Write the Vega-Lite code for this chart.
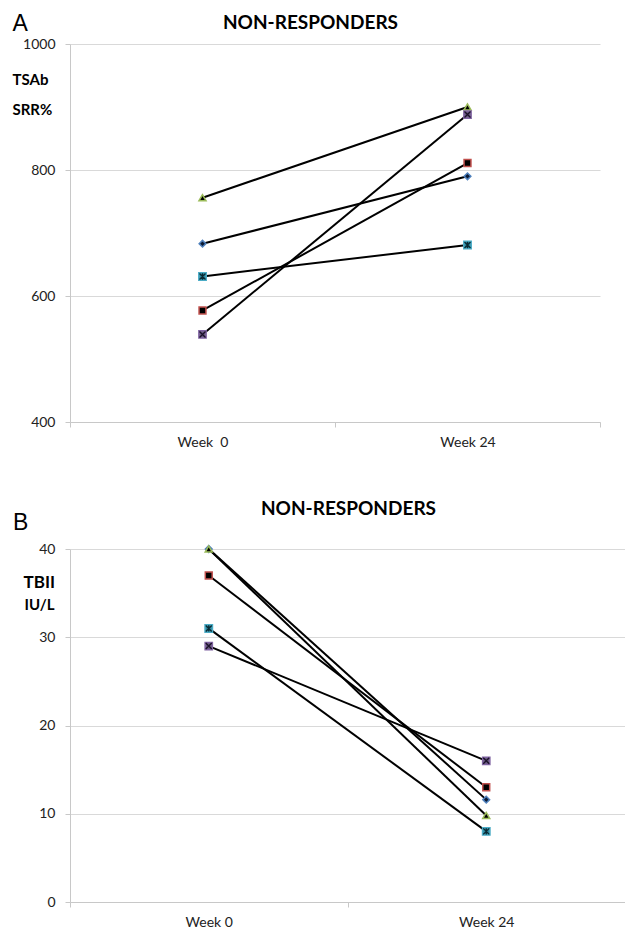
{
  "$schema": "https://vega.github.io/schema/vega-lite/v6.json",
  "padding": {"left": 12, "top": 12, "right": 0, "bottom": 0},
  "spacing": 50,
  "config": {
    "font": "Lato",
    "view": {"stroke": null},
    "axis": {
      "labelFont": "Lato",
      "labelFontSize": 14,
      "labelColor": "#222222",
      "domainColor": "#c8c8c8",
      "tickColor": "#c8c8c8",
      "gridColor": "#d9d9d9",
      "tickSize": 5,
      "titleColor": "#000000"
    }
  },
  "datasets": {
    "a": [
      {"patient": "p1", "week": "Week \u00a00", "value": 683},
      {"patient": "p1", "week": "Week 24", "value": 790},
      {"patient": "p2", "week": "Week \u00a00", "value": 577},
      {"patient": "p2", "week": "Week 24", "value": 811},
      {"patient": "p3", "week": "Week \u00a00", "value": 756},
      {"patient": "p3", "week": "Week 24", "value": 900},
      {"patient": "p4", "week": "Week \u00a00", "value": 539},
      {"patient": "p4", "week": "Week 24", "value": 888},
      {"patient": "p5", "week": "Week \u00a00", "value": 631},
      {"patient": "p5", "week": "Week 24", "value": 681}
    ],
    "b": [
      {"patient": "p1", "week": "Week 0", "value": 40},
      {"patient": "p1", "week": "Week 24", "value": 11.6},
      {"patient": "p2", "week": "Week 0", "value": 37},
      {"patient": "p2", "week": "Week 24", "value": 13},
      {"patient": "p3", "week": "Week 0", "value": 40},
      {"patient": "p3", "week": "Week 24", "value": 9.8},
      {"patient": "p4", "week": "Week 0", "value": 29},
      {"patient": "p4", "week": "Week 24", "value": 16},
      {"patient": "p5", "week": "Week 0", "value": 31},
      {"patient": "p5", "week": "Week 24", "value": 8}
    ]
  },
  "vconcat": [
    {
      "width": 530,
      "height": 378,
      "data": {"name": "a"},
      "resolve": {"axis": {"x": "independent", "y": "independent"}},
      "layer": [
        {
          "mark": {"type": "line", "color": "black", "strokeWidth": 2},
          "encoding": {
            "x": {"field": "week", "type": "nominal", "sort": null, "bandPosition": 0.5,
                  "scale": {"type": "band", "paddingInner": 0, "paddingOuter": 0},
                  "axis": {"title": null, "labelAngle": 0, "tickBand": "extent", "labelPadding": 8, "grid": false}},
            "y": {"field": "value", "type": "quantitative",
                  "scale": {"domain": [400, 1000], "nice": false, "zero": false},
                  "axis": {"values": [400, 600, 800, 1000], "format": "d", "grid": true, "labelPadding": 10,
                           "title": ["TSAb", "SRR%"], "titleAngle": 0, "titleAlign": "left", "titleBaseline": "alphabetic",
                           "titleX": -58, "titleY": 40, "titleFont": "Lato", "titleFontSize": 15, "titleFontWeight": "bold", "titleLineHeight": 30}},
            "detail": {"field": "patient"}
          }
        },
        {
          "mark": {"type": "point", "filled": true, "opacity": 1, "strokeWidth": 1.5},
          "encoding": {
            "x": {"field": "week", "type": "nominal", "sort": null, "bandPosition": 0.5,
                  "axis": {"orient": "top", "labels": false, "ticks": false, "domain": false, "grid": false,
                           "title": "NON-RESPONDERS", "titleFont": "Lato", "titleFontSize": 19, "titleFontWeight": "bold",
                           "titleAlign": "center", "titleBaseline": "alphabetic", "titleX": 240, "titleY": -16, "titleAngle": 0}},
            "y": {"field": "value", "type": "quantitative",
                  "axis": {"orient": "right", "labels": false, "ticks": false, "domain": false, "grid": false,
                           "title": "A", "titleFont": "Liberation Sans", "titleFontSize": 23, "titleFontWeight": "normal",
                           "titleAlign": "left", "titleBaseline": "alphabetic", "titleX": -588, "titleY": -14, "titleAngle": 0}},
            "shape": {"field": "patient", "type": "nominal", "legend": null,
                      "scale": {"domain": ["p1", "p2", "p3", "p4", "p5"], "range": ["diamond", "square", "triangle-up", "square", "square"]}},
            "fill": {"field": "patient", "type": "nominal", "legend": null,
                     "scale": {"domain": ["p1", "p2", "p3", "p4", "p5"], "range": ["#0b1a33", "#000000", "#000000", "#6a5a80", "#2f8aa0"]}},
            "stroke": {"field": "patient", "type": "nominal", "legend": null,
                       "scale": {"domain": ["p1", "p2", "p3", "p4", "p5"], "range": ["#4F81BD", "#C0504D", "#9BBB59", "#8064A2", "#4BACC6"]}},
            "size": {"field": "patient", "type": "ordinal", "legend": null,
                     "scale": {"domain": ["p1", "p2", "p3", "p4", "p5"], "range": [45, 55, 75, 64, 64]}}
          }
        },
        {
          "transform": [{"filter": "datum.patient === 'p4'"}],
          "mark": {"type": "point", "filled": false, "shape": "M-0.75,-0.75L0.75,0.75M-0.75,0.75L0.75,-0.75", "size": 64, "color": "#1a1028", "strokeWidth": 1.3, "opacity": 1},
          "encoding": {
            "x": {"field": "week", "type": "nominal", "sort": null, "bandPosition": 0.5, "axis": null},
            "y": {"field": "value", "type": "quantitative", "axis": null}
          }
        },
        {
          "transform": [{"filter": "datum.patient === 'p5'"}],
          "mark": {"type": "point", "filled": false, "shape": "M-0.75,-0.75L0.75,0.75M-0.75,0.75L0.75,-0.75M0,-0.8L0,0.8", "size": 64, "color": "#0a2a33", "strokeWidth": 1.3, "opacity": 1},
          "encoding": {
            "x": {"field": "week", "type": "nominal", "sort": null, "bandPosition": 0.5, "axis": null},
            "y": {"field": "value", "type": "quantitative", "axis": null}
          }
        }
      ]
    },
    {
      "width": 555,
      "height": 353,
      "title": {"text": "B", "font": "Liberation Sans", "fontSize": 23, "fontWeight": "normal", "anchor": "start", "frame": "bounds", "dx": -10, "offset": -54, "baseline": "alphabetic", "color": "#000000"},
      "data": {"name": "b"},
      "resolve": {"axis": {"x": "independent", "y": "independent"}},
      "layer": [
        {
          "mark": {"type": "line", "color": "black", "strokeWidth": 2},
          "encoding": {
            "x": {"field": "week", "type": "nominal", "sort": null, "bandPosition": 0.5,
                  "scale": {"type": "band", "paddingInner": 0, "paddingOuter": 0},
                  "axis": {"title": null, "labelAngle": 0, "tickBand": "extent", "labelPadding": 8, "grid": false}},
            "y": {"field": "value", "type": "quantitative",
                  "scale": {"domain": [0, 40], "nice": false},
                  "axis": {"values": [0, 10, 20, 30, 40], "grid": true, "labelPadding": 10,
                           "title": "TBII", "titleAngle": 0, "titleAlign": "left", "titleBaseline": "alphabetic",
                           "titleX": -47, "titleY": 38, "titleFont": "Lato", "titleFontSize": 17, "titleFontWeight": "bold"}},
            "detail": {"field": "patient"}
          }
        },
        {
          "mark": {"type": "point", "filled": true, "opacity": 1, "strokeWidth": 1.5},
          "encoding": {
            "x": {"field": "week", "type": "nominal", "sort": null, "bandPosition": 0.5,
                  "axis": {"orient": "top", "labels": false, "ticks": false, "domain": false, "grid": false,
                           "title": "NON-RESPONDERS", "titleFont": "Lato", "titleFontSize": 19, "titleFontWeight": "bold",
                           "titleAlign": "center", "titleBaseline": "alphabetic", "titleX": 278, "titleY": -35, "titleAngle": 0}},
            "y": {"field": "value", "type": "quantitative",
                  "axis": {"orient": "right", "labels": false, "ticks": false, "domain": false, "grid": false,
                           "title": "IU/L", "titleAngle": 0, "titleAlign": "left", "titleBaseline": "alphabetic",
                           "titleX": -601, "titleY": 60, "titleFont": "Lato", "titleFontSize": 15, "titleFontWeight": "bold"}},
            "shape": {"field": "patient", "type": "nominal", "legend": null,
                      "scale": {"domain": ["p1", "p2", "p3", "p4", "p5"], "range": ["diamond", "square", "triangle-up", "square", "square"]}},
            "fill": {"field": "patient", "type": "nominal", "legend": null,
                     "scale": {"domain": ["p1", "p2", "p3", "p4", "p5"], "range": ["#0b1a33", "#000000", "#000000", "#6a5a80", "#2f8aa0"]}},
            "stroke": {"field": "patient", "type": "nominal", "legend": null,
                       "scale": {"domain": ["p1", "p2", "p3", "p4", "p5"], "range": ["#4F81BD", "#C0504D", "#9BBB59", "#8064A2", "#4BACC6"]}},
            "size": {"field": "patient", "type": "ordinal", "legend": null,
                     "scale": {"domain": ["p1", "p2", "p3", "p4", "p5"], "range": [45, 55, 75, 64, 64]}}
          }
        },
        {
          "transform": [{"filter": "datum.patient === 'p4'"}],
          "mark": {"type": "point", "filled": false, "shape": "M-0.75,-0.75L0.75,0.75M-0.75,0.75L0.75,-0.75", "size": 64, "color": "#1a1028", "strokeWidth": 1.3, "opacity": 1},
          "encoding": {
            "x": {"field": "week", "type": "nominal", "sort": null, "bandPosition": 0.5, "axis": null},
            "y": {"field": "value", "type": "quantitative", "axis": null}
          }
        },
        {
          "transform": [{"filter": "datum.patient === 'p5'"}],
          "mark": {"type": "point", "filled": false, "shape": "M-0.75,-0.75L0.75,0.75M-0.75,0.75L0.75,-0.75M0,-0.8L0,0.8", "size": 64, "color": "#0a2a33", "strokeWidth": 1.3, "opacity": 1},
          "encoding": {
            "x": {"field": "week", "type": "nominal", "sort": null, "bandPosition": 0.5, "axis": null},
            "y": {"field": "value", "type": "quantitative", "axis": null}
          }
        }
      ]
    }
  ]
}
